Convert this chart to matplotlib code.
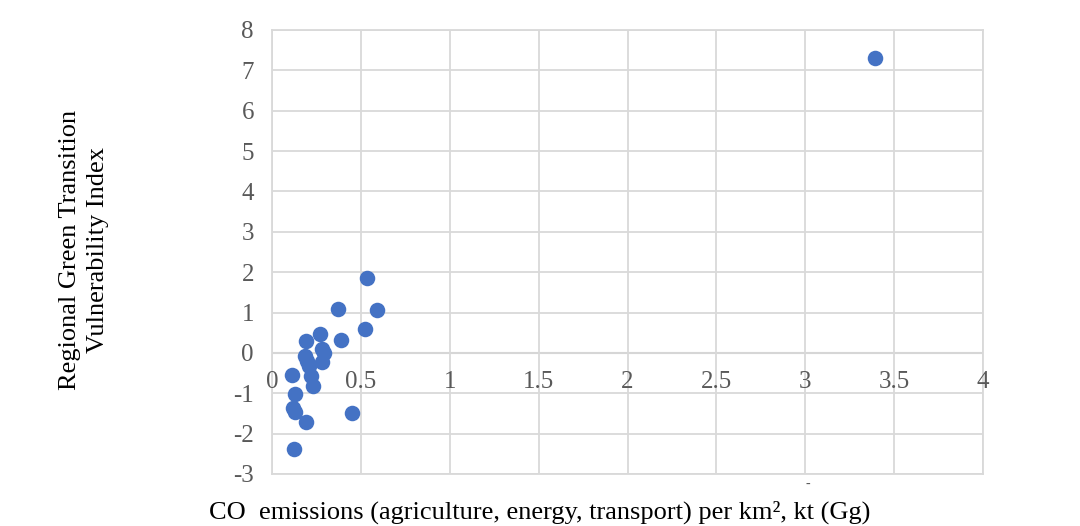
import matplotlib
matplotlib.use("Agg")
import matplotlib.pyplot as plt

x_vals = [3.39, 0.534, 0.59, 0.37, 0.525, 0.27, 0.39, 0.19, 0.28, 0.29, 0.185,
          0.195, 0.28, 0.21, 0.22, 0.23, 0.11, 0.13, 0.12, 0.13, 0.45, 0.19, 0.125]
y_vals = [7.3, 1.86, 1.06, 1.09, 0.59, 0.47, 0.32, 0.30, 0.09, -0.01, -0.07,
          -0.21, -0.22, -0.33, -0.58, -0.83, -0.54, -1.03, -1.36, -1.46, -1.49, -1.71, -2.37]

x_ticks = [0, 0.5, 1, 1.5, 2, 2.5, 3, 3.5, 4]
x_tick_labels = ["0", "0.5", "1", "1.5", "2", "2.5", "3", "3.5", "4"]
y_ticks = [-3, -2, -1, 0, 1, 2, 3, 4, 5, 6, 7, 8]
y_tick_labels = ["-3", "-2", "-1", "0", "1", "2", "3", "4", "5", "6", "7", "8"]

plt.rcParams['font.family'] = ['Liberation Serif', 'DejaVu Serif']

fig = plt.figure(figsize=(10.8, 5.26), dpi=100)
ax = fig.add_axes([272/1080, 1-474/526, (983-272)/1080, (474-30)/526])

ax.set_xlim(0, 4)
ax.set_ylim(-3, 8)
grid_c = "#d9d9d9"
ax.set_xticks(x_ticks)
ax.set_yticks(y_ticks)
ax.grid(True, color=grid_c, linewidth=1.3, zorder=0)
for s in ax.spines.values():
    s.set_color(grid_c)
    s.set_linewidth(1.3)
ax.axhline(0, color="#bfbfbf", linewidth=1.5, zorder=1)
ax.tick_params(axis="both", length=0, colors="#595959", labelsize=18)
ax.set_xticklabels([])
ax.set_yticklabels(y_tick_labels)
ax.tick_params(axis="y", pad=13)
for xv, lab in zip(x_ticks, x_tick_labels):
    ax.text(xv, -0.72, lab, ha="center", va="center", fontsize=18, color="#595959")

ax.scatter(x_vals, y_vals, s=125, color="#4472C4", zorder=3, linewidths=0)

fig.text(84/1080, 1-250/526, "Regional Green Transition\nVulnerability Index",
         rotation=90, ha="center", va="center", fontsize=19, color="black",
         linespacing=1.3)
fig.text(540/1080, 1-512/526, "CO  emissions (agriculture, energy, transport) per km\u00b2, kt (Gg)",
         ha="center", va="center", fontsize=19, color="black")
fig.text(808/1080, 1-484/526, "-", ha="center", va="center", fontsize=10, color="#595959")

fig.savefig("out.png", dpi=100)
